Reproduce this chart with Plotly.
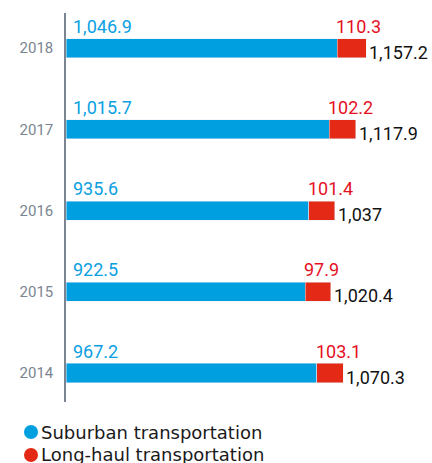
import plotly.graph_objects as go

years = ["2014", "2015", "2016", "2017", "2018"]
suburban = [967.2, 922.5, 935.6, 1015.7, 1046.9]
long_haul = [103.1, 97.9, 101.4, 102.2, 110.3]
totals = [1070.3, 1020.4, 1037.0, 1117.9, 1157.2]
suburban_labels = ["967.2", "922.5", "935.6", "1,015.7", "1,046.9"]
long_haul_labels = ["103.1", "97.9", "101.4", "102.2", "110.3"]
total_labels = ["1,070.3", "1,020.4", "1,037", "1,117.9", "1,157.2"]
series_names = ["Suburban transportation", "Long-haul transportation"]

BLUE = "#009fe0"
RED = "#e42a16"
BLUE_TXT = "#0aa0e2"
RED_TXT = "#e5101f"
FONT = "Roboto"
LEG_FONT = "DejaVu Sans"

fig = go.Figure()
fig.add_trace(go.Bar(y=years, x=suburban, orientation="h", marker_color=BLUE,
                     width=0.234, name=series_names[0], hoverinfo="skip"))
fig.add_trace(go.Bar(y=years, x=long_haul, orientation="h", marker_color=RED,
                     width=0.234, name=series_names[1], hoverinfo="skip"))

ann = []
for i, yr in enumerate(years):
    # category index position on the y axis
    ann.append(dict(x=0, y=i, xref="x", yref="y", text=suburban_labels[i], showarrow=False,
                    xanchor="left", yanchor="middle", xshift=5, yshift=22,
                    font=dict(family=FONT, size=18, color=BLUE_TXT)))
    ann.append(dict(x=suburban[i], y=i, xref="x", yref="y", text=long_haul_labels[i], showarrow=False,
                    xanchor="left", yanchor="middle", xshift=-3, yshift=22,
                    font=dict(family=FONT, size=18, color=RED_TXT)))
    ann.append(dict(x=totals[i], y=i, xref="x", yref="y", text=total_labels[i], showarrow=False,
                    xanchor="left", yanchor="middle", xshift=1, yshift=-4,
                    font=dict(family=FONT, size=18, color="#111111")))

# manual legend
legend_colors = [BLUE, RED]
legend_y = [432, 455]
shapes = []
for name, col, py in zip(series_names, legend_colors, legend_y):
    yp = 1 - (py - 13) / 389.0
    xp = (31 - 66) / 366.0
    shapes.append(dict(type="circle", xref="paper", yref="paper", xsizemode="pixel", ysizemode="pixel",
                       xanchor=xp, yanchor=yp, x0=-7, x1=7, y0=-7, y1=7,
                       fillcolor=col, line=dict(width=0)))
    ann.append(dict(x=(39 - 66) / 366.0, y=yp, xref="paper", yref="paper", text=name, showarrow=False,
                    xanchor="left", yanchor="middle",
                    font=dict(family=LEG_FONT, size=18, color="#1a1a1a")))

fig.update_layout(
    width=432, height=463,
    margin=dict(l=66, r=0, t=13, b=61),
    barmode="stack",
    showlegend=False,
    plot_bgcolor="white", paper_bgcolor="white",
    annotations=ann, shapes=shapes,
    xaxis=dict(range=[0, 1411.8], visible=False, fixedrange=True),
    yaxis=dict(type="category", categoryorder="array", categoryarray=years,
               range=[-0.357, 4.431], showline=True, linecolor="#7b8592", linewidth=1.5,
               showgrid=False, zeroline=False, ticks="", ticklabelstandoff=8,
               tickfont=dict(family=FONT, size=15, color="#7b8592"), fixedrange=True),
)

fig.write_html("out.html", config={"displayModeBar": False},
               post_script="document.body.style.margin='0';")
